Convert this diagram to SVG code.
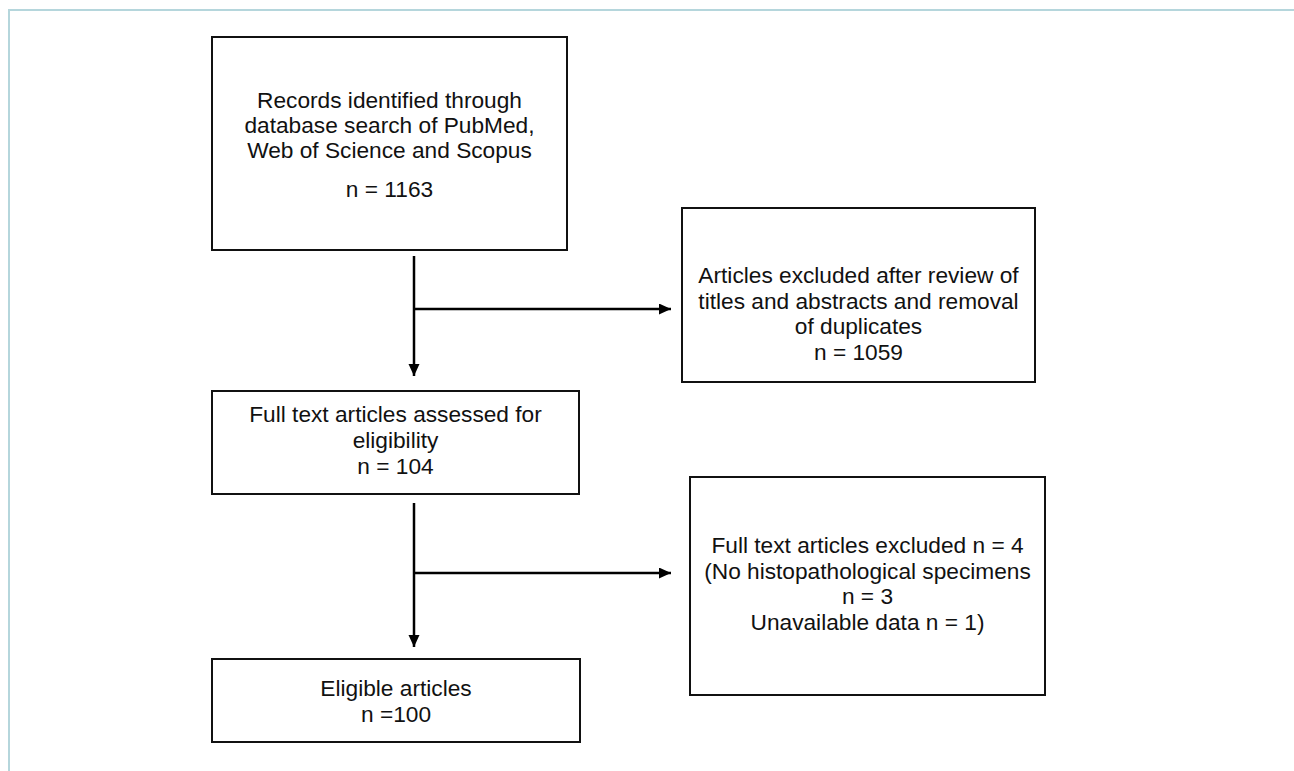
<svg xmlns="http://www.w3.org/2000/svg" width="1294" height="771" viewBox="0 0 1294 771">
<style>
.box{fill:#fff;stroke:#111;stroke-width:2}
.t{font-family:"Liberation Sans",Arial,sans-serif;font-size:22.7px;fill:#111;text-anchor:middle}
.c{fill:none;stroke:#000;stroke-width:2.5}
.frame{fill:none;stroke:#b5d6dc;stroke-width:2}
</style>
<defs>
<marker id="ah" markerUnits="userSpaceOnUse" markerWidth="13" markerHeight="12" refX="12" refY="5.5" orient="auto" viewBox="0 0 13 12">
<path d="M0,0 L12,5.5 L0,11 z" fill="#000"/>
</marker>
</defs>
<rect width="1294" height="771" fill="#fff"/>
<path class="frame" d="M9,771 L9,10 L1294,10"/>
<g id="n1">
<rect class="box" x="212" y="37" width="355" height="213"/>
<text class="t" x="389.5" y="108">Records identified through</text>
<text class="t" x="389.5" y="133">database search of PubMed,</text>
<text class="t" x="389.5" y="158">Web of Science and Scopus</text>
<text class="t" x="389.5" y="197">n = 1163</text>
</g>
<g id="n2">
<rect class="box" x="682" y="208" width="353" height="174"/>
<text class="t" x="858.5" y="283">Articles excluded after review of</text>
<text class="t" x="858.5" y="308.5">titles and abstracts and removal</text>
<text class="t" x="858.5" y="334">of duplicates</text>
<text class="t" x="858.5" y="360">n = 1059</text>
</g>
<g id="n3">
<rect class="box" x="212" y="391" width="367" height="103"/>
<text class="t" x="395.5" y="422">Full text articles assessed for</text>
<text class="t" x="395.5" y="448">eligibility</text>
<text class="t" x="395.5" y="474">n = 104</text>
</g>
<g id="n4">
<rect class="box" x="690" y="477" width="355" height="218"/>
<text class="t" x="867.5" y="553">Full text articles excluded n = 4</text>
<text class="t" x="867.5" y="578.5">(No histopathological specimens</text>
<text class="t" x="867.5" y="604">n = 3</text>
<text class="t" x="867.5" y="630">Unavailable data n = 1)</text>
</g>
<g id="n5">
<rect class="box" x="212" y="659" width="368" height="83"/>
<text class="t" x="396" y="696">Eligible articles</text>
<text class="t" x="396" y="722">n =100</text>
</g>
<g id="connectors">
<path class="c" d="M414,256 L414,376" marker-end="url(#ah)"/>
<path class="c" d="M414,309 L671,309" marker-end="url(#ah)"/>
<path class="c" d="M414,503 L414,647" marker-end="url(#ah)"/>
<path class="c" d="M414,573 L671,573" marker-end="url(#ah)"/>
</g>
</svg>
